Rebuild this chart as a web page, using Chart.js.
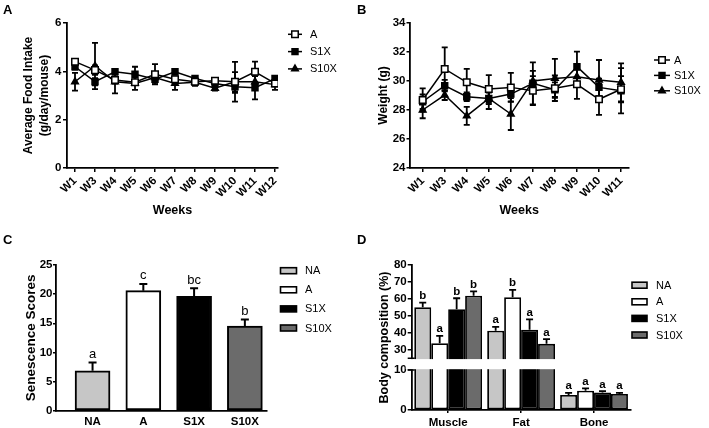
<!DOCTYPE html>
<html><head><meta charset="utf-8">
<script src="https://cdn.jsdelivr.net/npm/chart.js@4.4.1/dist/chart.umd.min.js"></script>
<style>
html,body{margin:0;padding:0;background:#fff;}
#wrap{position:relative;width:709px;height:428px;overflow:hidden;background:#fff;}
canvas{position:absolute;}
.lbl{position:absolute;font:bold 13px 'Liberation Sans',Arial,sans-serif;color:#000;line-height:15px;}
</style></head><body>
<div id="wrap">
<canvas id="cA" width="355" height="220" style="left:0;top:0"></canvas>
<canvas id="cB" width="354" height="220" style="left:355px;top:0"></canvas>
<canvas id="cC" width="355" height="208" style="left:0;top:220px"></canvas>
<canvas id="cD" width="354" height="208" style="left:355px;top:220px"></canvas>
<div class="lbl" style="left:3px;top:2px">A</div>
<div class="lbl" style="left:357px;top:2px">B</div>
<div class="lbl" style="left:3px;top:232px">C</div>
<div class="lbl" style="left:357px;top:232px">D</div>
</div>
<script>
// ---------- DATA ----------
const seriesNames = ['A', 'S1X', 'S10X'];

// Panel A: average food intake (g/day/mouse)
const weeksFood = ['W1','W3','W4','W5','W6','W7','W8','W9','W10','W11','W12'];
const foodA     = [4.40, 4.05, 3.64, 3.55, 3.88, 3.67, 3.57, 3.61, 3.57, 3.98, 3.50];
const foodS1X   = [4.19, 3.57, 3.98, 3.88, 3.67, 3.98, 3.70, 3.50, 3.36, 3.32, 3.70];
const foodS10X  = [3.57, 4.22, 3.57, 3.50, 3.74, 3.50, 3.55, 3.30, 3.57, 3.57, 3.45];
const foodAErr    = [0.10, 0.20, 0.15, 0.12, 0.42, 0.12, 0.10, 0.08, 0.40, 0.42, 0.12];
const foodS1XErr  = [0.12, 0.15, 0.10, 0.31, 0.15, 0.08, 0.10, 0.10, 0.25, 0.48, 0.10];
const foodS10XErr = [0.37, 0.96, 0.48, 0.27, 0.20, 0.27, 0.15, 0.10, 0.82, 0.25, 0.22];
const foodTicks = [0, 2, 4, 6];

// Panel B: body weight (g)
const weeksWeight = ['W1','W3','W4','W5','W6','W7','W8','W9','W10','W11'];
const weightA    = [28.69, 30.83, 29.91, 29.45, 29.56, 29.33, 29.50, 29.77, 28.74, 29.43];
const weightS1X  = [28.57, 29.68, 28.92, 28.80, 29.10, 29.84, 29.40, 30.99, 29.56, 29.33];
const weightS10X = [28.00, 29.03, 27.59, 28.80, 27.72, 30.00, 30.18, 30.30, 30.07, 29.91];
const weightAErr    = [0.80, 1.49, 0.92, 0.96, 1.00, 1.00, 0.88, 1.00, 1.08, 0.90];
const weightS1XErr  = [0.50, 0.40, 0.30, 0.73, 0.50, 1.45, 0.50, 1.03, 0.60, 1.56];
const weightS10XErr = [0.57, 0.34, 0.62, 0.40, 1.10, 0.70, 1.34, 0.70, 1.38, 1.31];

// Panel C: senescence scores
const groups = ['NA', 'A', 'S1X', 'S10X'];
const senScores  = [6.86, 20.60, 19.62, 14.53];
const senErr     = [1.43, 1.14, 1.37, 1.14];
const senLetters = ['a', 'c', 'bc', 'b'];

// Panel D: body composition (%)
const compCats = ['Muscle', 'Fat', 'Bone'];
const compNA   = [55.1, 41.2, 3.75];
const compA    = [33.9, 61.0, 4.80];
const compS1X  = [53.9, 41.8, 4.40];
const compS10X = [61.9, 33.5, 4.00];
const compNAErr   = [2.7, 2.3, 0.55];
const compAErr    = [4.3, 4.3, 0.60];
const compS1XErr  = [6.5, 6.2, 0.30];
const compS10XErr = [2.6, 2.8, 0.30];
const compNALetters   = ['b', 'a', 'a'];
const compALetters    = ['a', 'b', 'a'];
const compS1XLetters  = ['b', 'a', 'a'];
const compS10XLetters = ['b', 'a', 'a'];
const compTicks = [0, 10, 30, 40, 50, 60, 70, 80];

// ---------- STYLE ----------
const F = "'Liberation Sans', Arial, Helvetica, sans-serif";
const FN = "'Liberation Sans Narrow', 'Liberation Sans', Arial, sans-serif";
const groupColors = ['#c6c6c6', '#ffffff', '#000000', '#6b6b6b'];
Chart.defaults.font.family = F;
Chart.defaults.color = '#000';

// axis break definition for panel D
const BREAK = { lowMax: 10, highMin: 25, lowFrac: 0.2759, gapFrac: 0.0807 };

class BrokenLinearScale extends Chart.LinearScale {
  getPixelForValue(value) {
    const b = this.bottom, h = this.bottom - this.top;
    const lowH = h * BREAK.lowFrac, gapH = h * BREAK.gapFrac, upH = h - lowH - gapH;
    if (value <= BREAK.lowMax) return b - (value - this.min) / (BREAK.lowMax - this.min) * lowH;
    if (value >= BREAK.highMin) return b - lowH - gapH - (value - BREAK.highMin) / (this.max - BREAK.highMin) * upH;
    return b - lowH - (value - BREAK.lowMax) / (BREAK.highMin - BREAK.lowMax) * gapH;
  }
}
BrokenLinearScale.id = 'brokenLinear';
BrokenLinearScale.defaults = {};
Chart.register(BrokenLinearScale);

// ---------- PLUGINS ----------
function drawErrors(chart, o) {
  const ctx = chart.ctx;
  ctx.save();
  ctx.strokeStyle = '#000'; ctx.lineWidth = o.lineWidth;
  chart.data.datasets.forEach((ds, di) => {
    if (!ds.errors) return;
    const meta = chart.getDatasetMeta(di);
    const ys = chart.scales[meta.yAxisID];
    meta.data.forEach((el, i) => {
      const raw = ds.data[i];
      const v = (raw !== null && typeof raw === 'object') ? raw.y : raw;
      const e = ds.errors[i];
      const yt = ys.getPixelForValue(v + e);
      const yb = ys.getPixelForValue(o.both ? v - e : v);
      const hc = o.cap / 2;
      ctx.beginPath();
      ctx.moveTo(el.x, yt); ctx.lineTo(el.x, yb);
      ctx.moveTo(el.x - hc, yt); ctx.lineTo(el.x + hc, yt);
      if (o.both) { ctx.moveTo(el.x - hc, yb); ctx.lineTo(el.x + hc, yb); }
      ctx.stroke();
      if (ds.letters) {
        ctx.fillStyle = '#000'; ctx.font = o.letterFont;
        ctx.textAlign = 'center'; ctx.textBaseline = 'alphabetic';
        ctx.fillText(ds.letters[i], el.x, yt - o.letterGap);
      }
    });
  });
  ctx.restore();
}
const errorBarPlugin = {
  id: 'errorBars',
  beforeDatasetsDraw(chart, a, o) { if (o.under) drawErrors(chart, o); },
  afterDatasetsDraw(chart, a, o) { if (!o.under) drawErrors(chart, o); }
};

function drawMarker(ctx, style, x, y, r, fill, bw) {
  ctx.beginPath();
  if (style === 'rect') {
    const s = r * Math.SQRT1_2;
    ctx.rect(x - s, y - s, 2 * s, 2 * s);
  } else {
    let rad = 0;
    ctx.moveTo(x + Math.sin(rad) * r, y - Math.cos(rad) * r);
    rad += 2 * Math.PI / 3; ctx.lineTo(x + Math.sin(rad) * r, y - Math.cos(rad) * r);
    rad += 2 * Math.PI / 3; ctx.lineTo(x + Math.sin(rad) * r, y - Math.cos(rad) * r);
    ctx.closePath();
  }
  ctx.fillStyle = fill; ctx.fill();
  ctx.lineWidth = bw; ctx.strokeStyle = '#000'; ctx.stroke();
}

const sideLegendPlugin = {
  id: 'sideLegend',
  afterDraw(chart, a, o) {
    const ctx = chart.ctx;
    ctx.save();
    let items;
    if (o.source === 'labels') {
      const ds = chart.data.datasets[0];
      items = ds.legendLabels.map((t, k) => ({ text: t, fill: ds.backgroundColor[k] }));
    } else {
      items = chart.data.datasets.map(ds => ({
        text: ds.label, fill: o.kind === 'line' ? ds.pointBackgroundColor : ds.backgroundColor,
        style: ds.pointStyle, r: ds.pointRadius, bw: ds.pointBorderWidth
      }));
    }
    items.forEach((it, k) => {
      const y = o.y + k * o.dy;
      if (o.kind === 'line') {
        ctx.strokeStyle = '#000'; ctx.lineWidth = 1.5;
        ctx.beginPath(); ctx.moveTo(o.x - o.len / 2, y); ctx.lineTo(o.x + o.len / 2, y); ctx.stroke();
        drawMarker(ctx, it.style, o.x, y, it.r, it.fill, it.bw);
      } else {
        ctx.fillStyle = it.fill;
        ctx.fillRect(o.x - o.w / 2, y - o.h / 2, o.w, o.h);
        ctx.strokeStyle = '#000'; ctx.lineWidth = o.bw;
        ctx.strokeRect(o.x - o.w / 2, y - o.h / 2, o.w, o.h);
      }
      ctx.fillStyle = '#000'; ctx.font = o.font;
      ctx.textAlign = 'left'; ctx.textBaseline = 'middle';
      ctx.fillText(it.text, o.textX, y + 0.5);
    });
    ctx.restore();
  }
};

const axisBreakPlugin = {
  id: 'axisBreak',
  afterDatasetsDraw(chart) {
    const ys = chart.scales.y, ctx = chart.ctx, ca = chart.chartArea;
    const yHi = ys.getPixelForValue(BREAK.highMin), yLo = ys.getPixelForValue(BREAK.lowMax);
    ctx.save();
    ctx.fillStyle = '#fff';
    ctx.fillRect(ca.left - 6, yHi + 0.8, ca.right - ca.left + 10, yLo - yHi - 1.6);
    ctx.strokeStyle = '#000'; ctx.lineWidth = 1.5;
    ctx.beginPath();
    ctx.moveTo(ca.left - 4, yHi); ctx.lineTo(ca.left + 3, yHi);
    ctx.moveTo(ca.left - 4, yLo); ctx.lineTo(ca.left + 3, yLo);
    ctx.stroke();
    ctx.restore();
  }
};

// ---------- HELPERS ----------
function axisLines(tickLen, show) {
  return {
    grid: { display: show, drawOnChartArea: false, drawTicks: true, tickLength: tickLen, color: '#000', lineWidth: 1.5, offset: false },
    border: { display: true, color: '#000', width: 1.8 }
  };
}
function lineSeries(label, xs, ys, errs, style, r, fill) {
  return {
    label, data: xs.map((_, i) => ({ x: i, y: ys[i] })), errors: errs,
    borderColor: '#000', borderWidth: 1.5, tension: 0, fill: false,
    pointStyle: style, pointRadius: r, pointBackgroundColor: fill,
    pointBorderColor: '#000', pointBorderWidth: 1.5
  };
}
const base = { responsive: false, animation: false, devicePixelRatio: 1, events: [] };

// ---------- PANEL A ----------
new Chart(document.getElementById('cA'), {
  type: 'line',
  data: { datasets: [
    lineSeries(seriesNames[0], weeksFood, foodA, foodAErr, 'rect', 4.6, '#fff'),
    lineSeries(seriesNames[1], weeksFood, foodS1X, foodS1XErr, 'rect', 4.2, '#000'),
    lineSeries(seriesNames[2], weeksFood, foodS10X, foodS10XErr, 'triangle', 3.8, '#000')
  ]},
  options: Object.assign({}, base, {
    layout: { padding: { top: 23, right: 77, left: 0, bottom: 0 } },
    plugins: {
      legend: { display: false }, tooltip: { enabled: false },
      errorBars: { both: true, under: true, cap: 6, lineWidth: 1.8 },
      sideLegend: { kind: 'line', x: 295, y: 34.3, dy: 17.3, len: 14, textX: 310, font: '11px ' + FN }
    },
    scales: {
      x: Object.assign(axisLines(4, true), {
        type: 'linear', min: -0.4, max: 10.15, bounds: 'data', offset: false,
        afterBuildTicks: s => { s.ticks = weeksFood.map((_, i) => ({ value: i })); },
        ticks: { callback: v => weeksFood[v], minRotation: 45, maxRotation: 45, autoSkip: false, font: { size: 11.5, weight: 'bold' }, padding: 2 },
        title: { display: true, text: 'Weeks', font: { size: 12.5, weight: 'bold' }, padding: { top: 2, bottom: 1.5 } },
        afterFit: s => { s.height = 52; }
      }),
      y: Object.assign(axisLines(4, true), {
        min: 0, max: 6,
        afterBuildTicks: s => { s.ticks = foodTicks.map(v => ({ value: v })); },
        ticks: { font: { size: 11.5, weight: 'bold' }, padding: 1.5 },
        title: { display: true, text: ['Average Food Intake', '(g/day/mouse)'], font: { size: 12, weight: 'bold', lineHeight: '16px' }, padding: { top: 21, bottom: 0 } },
        afterFit: s => { s.width = 67; }
      })
    }
  }),
  plugins: [errorBarPlugin, sideLegendPlugin]
});

// ---------- PANEL B ----------
new Chart(document.getElementById('cB'), {
  type: 'line',
  data: { datasets: [
    lineSeries(seriesNames[0], weeksWeight, weightA, weightAErr, 'rect', 4.6, '#fff'),
    lineSeries(seriesNames[1], weeksWeight, weightS1X, weightS1XErr, 'rect', 4.2, '#000'),
    lineSeries(seriesNames[2], weeksWeight, weightS10X, weightS10XErr, 'triangle', 3.8, '#000')
  ]},
  options: Object.assign({}, base, {
    layout: { padding: { top: 23, right: 80.7, left: 0, bottom: 0 } },
    plugins: {
      legend: { display: false }, tooltip: { enabled: false },
      errorBars: { both: true, under: true, cap: 6, lineWidth: 1.8 },
      sideLegend: { kind: 'line', x: 307, y: 60, dy: 15.4, len: 16, textX: 319, font: '11px ' + FN }
    },
    scales: {
      x: Object.assign(axisLines(4, true), {
        type: 'linear', min: -0.575, max: 9.33, bounds: 'data', offset: false,
        afterBuildTicks: s => { s.ticks = weeksWeight.map((_, i) => ({ value: i })); },
        ticks: { callback: v => weeksWeight[v], minRotation: 45, maxRotation: 45, autoSkip: false, font: { size: 11.5, weight: 'bold' }, padding: 2 },
        title: { display: true, text: 'Weeks', font: { size: 12.5, weight: 'bold' }, padding: { top: 2, bottom: 1.5 } },
        afterFit: s => { s.height = 52; }
      }),
      y: Object.assign(axisLines(3.5, true), {
        min: 24, max: 34,
        ticks: { stepSize: 2, font: { size: 11.5, weight: 'bold' }, padding: 1 },
        title: { display: true, text: 'Weight (g)', font: { size: 12, weight: 'bold', lineHeight: '16px' }, padding: { top: 21, bottom: 0 } },
        afterFit: s => { s.width = 55; }
      })
    }
  }),
  plugins: [errorBarPlugin, sideLegendPlugin]
});

// ---------- PANEL C ----------
new Chart(document.getElementById('cC'), {
  type: 'bar',
  data: { datasets: [{
    data: groups.map((_, i) => ({ x: i, y: senScores[i] })),
    errors: senErr, letters: senLetters, legendLabels: groups,
    backgroundColor: groupColors, borderColor: '#000', borderWidth: 2, borderSkipped: false, barThickness: 35
  }]},
  options: Object.assign({}, base, {
    layout: { padding: { top: 45, right: 88.3, left: 0, bottom: 0 } },
    plugins: {
      legend: { display: false }, tooltip: { enabled: false },
      errorBars: { both: false, under: false, cap: 8, lineWidth: 2, letterFont: '13px ' + F, letterGap: 4.5 },
      sideLegend: { kind: 'box', source: 'labels', x: 288.5, y: 50.7, dy: 19.1, w: 16, h: 6, bw: 1.6, textX: 305, font: '11px ' + FN }
    },
    scales: {
      x: Object.assign(axisLines(0, false), {
        type: 'linear', min: -0.72, max: 3.43, bounds: 'data', offset: false,
        afterBuildTicks: s => { s.ticks = groups.map((_, i) => ({ value: i })); },
        ticks: { callback: v => groups[v], maxRotation: 0, autoSkip: false, font: { size: 11.5, weight: 'bold' }, padding: 4.5 },
        afterFit: s => { s.height = 17.3; }
      }),
      y: Object.assign(axisLines(3, true), {
        min: 0, max: 25,
        ticks: { stepSize: 5, font: { size: 11.5, weight: 'bold' }, padding: 0.5 },
        title: { display: true, text: 'Senescence Scores', font: { size: 13.5, weight: 'bold', lineHeight: '16px' }, padding: { top: 23.7, bottom: 0 } },
        afterFit: s => { s.width = 56; }
      })
    }
  }),
  plugins: [errorBarPlugin, sideLegendPlugin]
});

// ---------- PANEL D ----------
function compSeries(label, vals, errs, letters, color) {
  return { label, data: vals, errors: errs, letters, backgroundColor: color, borderColor: '#000', borderWidth: 1.8,
           borderSkipped: false, categoryPercentage: 0.93, barPercentage: 1.0 };
}
new Chart(document.getElementById('cD'), {
  type: 'bar',
  data: { labels: compCats, datasets: [
    compSeries(groups[0], compNA, compNAErr, compNALetters, groupColors[0]),
    compSeries(groups[1], compA, compAErr, compALetters, groupColors[1]),
    compSeries(groups[2], compS1X, compS1XErr, compS1XLetters, groupColors[2]),
    compSeries(groups[3], compS10X, compS10XErr, compS10XLetters, groupColors[3])
  ]},
  options: Object.assign({}, base, {
    layout: { padding: { top: 45, right: 78.5, left: 0, bottom: 0 } },
    plugins: {
      legend: { display: false }, tooltip: { enabled: false },
      errorBars: { both: false, under: false, cap: 7, lineWidth: 1.8, letterFont: 'bold 11.5px ' + F, letterGap: 3.5 },
      sideLegend: { kind: 'box', source: 'datasets', x: 284.5, y: 65.2, dy: 16.6, w: 15, h: 6, bw: 1.6, textX: 301, font: '11px ' + FN }
    },
    scales: {
      x: Object.assign(axisLines(3, true), {
        type: 'category', offset: true,
        ticks: { maxRotation: 0, autoSkip: false, font: { size: 11.5, weight: 'bold' }, padding: 2.5 },
        afterFit: s => { s.height = 18; }
      }),
      y: Object.assign(axisLines(4, true), {
        type: 'brokenLinear', min: 0, max: 80,
        afterBuildTicks: s => { s.ticks = compTicks.map(v => ({ value: v })); },
        ticks: { font: { size: 11.5, weight: 'bold' }, padding: 1 },
        title: { display: true, text: 'Body composition (%)', font: { size: 12.5, weight: 'bold', lineHeight: '15px' }, padding: { top: 22.5, bottom: 0 } },
        afterFit: s => { s.width = 56.7; }
      })
    }
  }),
  plugins: [axisBreakPlugin, errorBarPlugin, sideLegendPlugin]
});
</script>
</body></html>
